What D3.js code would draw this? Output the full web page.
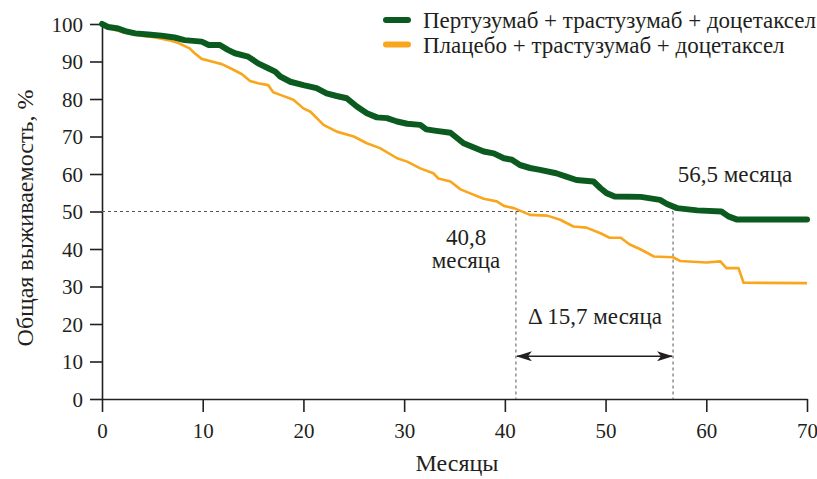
<!DOCTYPE html>
<html>
<head>
<meta charset="utf-8">
<script src="https://cdnjs.cloudflare.com/ajax/libs/d3/7.8.5/d3.min.js"></script>
<style>
  body { margin: 0; background: #fff; }
</style>
</head>
<body>
<svg width="817" height="479"></svg>
<script>
// Kaplan-Meier curves: months, survival %
const greenMonths = [0, 0.6, 1.6, 2.3, 3.3, 4.6, 5.9, 7.2, 8.2, 9.9, 10.6, 11.7, 12.5, 13.2, 14.5, 15.5, 16.5, 17.2, 17.7, 18.7, 20, 21.3, 22.3, 23.3, 24.3, 25.3, 26.3, 27.3, 28.3, 29.3, 30.3, 31.6, 32.2, 33.2, 34.6, 35.9, 37.9, 38.9, 39.9, 40.7, 41.5, 42.5, 43.5, 45.1, 46.1, 47.1, 48.8, 49.5, 50.1, 50.9, 53.5, 55.4, 56.1, 57.1, 59.1, 61.5, 62.2, 63.0, 70];
const greenPct    = [100, 99.2, 98.8, 98.1, 97.5, 97.2, 96.9, 96.4, 95.7, 95.3, 94.4, 94.4, 93.1, 92.2, 91.3, 89.5, 88.2, 87.3, 86, 84.6, 83.7, 82.9, 81.5, 80.8, 80.2, 78, 76.2, 75.1, 74.9, 74, 73.4, 73.1, 71.9, 71.5, 71.0, 68.2, 66.0, 65.5, 64.2, 63.8, 62.4, 61.6, 61.1, 60.2, 59.3, 58.4, 58.0, 56.2, 54.9, 54.0, 53.9, 53.1, 52.0, 50.9, 50.3, 50.0, 48.7, 47.9, 47.9];

const orangeMonths = [0, 1.3, 2.6, 3.9, 5.3, 6.6, 7.6, 8.7, 9.2, 9.9, 10.9, 11.9, 12.9, 13.9, 14.7, 15.5, 16.5, 17.0, 17.7, 19.0, 20, 20.7, 22.0, 23.3, 25, 26.3, 27.6, 29.3, 30.3, 31.6, 32.9, 33.4, 34.6, 35.6, 36.5, 37.9, 39.2, 39.9, 40.9, 42.5, 44.2, 45.5, 46.8, 48.1, 49.5, 50.4, 51.5, 52.4, 53.4, 54.8, 56.7, 57.4, 60.0, 61.4, 62.0, 63.2, 63.7, 70];
const orangePct    = [99.7, 98.4, 97.5, 96.9, 96.4, 95.7, 94.9, 93.5, 92.2, 90.7, 90.0, 89.3, 88.0, 86.6, 84.8, 84.2, 83.7, 81.8, 81.1, 79.8, 77.5, 76.6, 73.1, 71.3, 70.0, 68.2, 66.9, 64.2, 63.3, 61.5, 60.2, 58.8, 58.0, 55.9, 54.9, 53.4, 52.7, 51.5, 50.9, 49.1, 48.9, 47.8, 46.0, 45.7, 44.2, 43.0, 43.0, 41.2, 40.0, 38.0, 37.8, 36.8, 36.4, 36.7, 34.9, 34.9, 31.0, 30.9];

const seriesNames = ["Пертузумаб + трастузумаб + доцетаксел", "Плацебо + трастузумаб + доцетаксел"];
const seriesColors = ["#0b5a1f", "#f9a61c"];

const xTicks = [0, 10, 20, 30, 40, 50, 60, 70];
const yTicks = [0, 10, 20, 30, 40, 50, 60, 70, 80, 90, 100];

// medians as drawn (dashed drop lines) and their labels
const medianPct = 50;
const medianOrange = 41.1;
const medianGreen = 56.7;
const arrowPct = 11.4;

const FONT = "Liberation Serif";
const INK = '#231f20';

const svg = d3.select('svg');
const margin = {top: 24, right: 10, bottom: 80, left: 102};
const width = 807 - margin.left;
const height = 399 - margin.top;

const g = svg.append('g')
  .attr('transform', 'translate(' + margin.left + ',' + margin.top + ')');

const x = d3.scaleLinear().domain([0, 70]).range([0, width]);
const y = d3.scaleLinear().domain([0, 100]).range([height, 0]);

// axes
const xAxis = g.append('g')
  .attr('transform', 'translate(0,' + height + ')')
  .call(d3.axisBottom(x).tickValues(xTicks).tickSize(13).tickPadding(8).tickSizeOuter(0));
const yAxis = g.append('g')
  .call(d3.axisLeft(y).tickValues(yTicks).tickSize(12).tickPadding(7).tickSizeOuter(0));

[xAxis, yAxis].forEach(a => {
  a.attr('font-family', null).attr('font-size', null);
  a.select('.domain').attr('stroke', INK).attr('stroke-width', 1.6);
  a.selectAll('.tick line').attr('stroke', INK).attr('stroke-width', 1.6);
  a.selectAll('.tick text').attr('fill', INK)
    .style('font-family', FONT).style('font-size', '21px');
});
xAxis.selectAll('.tick text').attr('dy', '0.85em');
yAxis.selectAll('.tick text').attr('dy', '0.34em');

// dashed median guides
const dash = g.append('g').attr('stroke', '#555').attr('stroke-width', 1).attr('stroke-dasharray', '3,3').attr('fill', 'none');
dash.append('line')
  .attr('x1', x(0)).attr('x2', x(medianGreen))
  .attr('y1', y(medianPct)).attr('y2', y(medianPct));
dash.append('line')
  .attr('x1', x(medianOrange)).attr('x2', x(medianOrange))
  .attr('y1', y(medianPct)).attr('y2', y(0));
dash.append('line')
  .attr('x1', x(medianGreen)).attr('x2', x(medianGreen))
  .attr('y1', y(medianPct)).attr('y2', y(0));

// curves
const line = d3.line().x(d => x(d[0])).y(d => y(d[1]));
const orangeData = d3.zip(orangeMonths, orangePct);
const greenData = d3.zip(greenMonths, greenPct);

g.append('path')
  .datum(orangeData)
  .attr('d', line)
  .attr('fill', 'none')
  .attr('stroke', seriesColors[1])
  .attr('stroke-width', 2.6)
  .attr('stroke-linejoin', 'round');

g.append('path')
  .datum(greenData)
  .attr('d', line)
  .attr('fill', 'none')
  .attr('stroke', seriesColors[0])
  .attr('stroke-width', 6)
  .attr('stroke-linejoin', 'round')
  .attr('stroke-linecap', 'round');

// double arrow between medians
const defs = svg.append('defs');
defs.append('marker')
  .attr('id', 'arr')
  .attr('viewBox', '0 0 16 10')
  .attr('refX', 15).attr('refY', 5)
  .attr('markerWidth', 16).attr('markerHeight', 10)
  .attr('markerUnits', 'userSpaceOnUse')
  .attr('orient', 'auto-start-reverse')
  .append('path')
  .attr('d', 'M0,0 L16,5 L0,10 L4,5 Z')
  .attr('fill', INK);

g.append('line')
  .attr('x1', x(medianOrange) + 1).attr('x2', x(medianGreen) - 1)
  .attr('y1', y(arrowPct)).attr('y2', y(arrowPct))
  .attr('stroke', INK).attr('stroke-width', 1.5)
  .attr('marker-start', 'url(#arr)')
  .attr('marker-end', 'url(#arr)');

// annotations
function label(sel, px, py, txt, size) {
  return sel.append('text')
    .attr('x', px).attr('y', py)
    .attr('text-anchor', 'middle')
    .attr('fill', INK)
    .style('font-family', FONT)
    .style('font-size', size + 'px')
    .text(txt);
}
label(g, 364, 221, '40,8', 23);
label(g, 364, 244, 'месяца', 23);
label(g, 493, 300, 'Δ 15,7 месяца', 23);
label(g, 633, 158, '56,5 месяца', 23);

// axis titles
label(svg, 457, 471, 'Месяцы', 24);
label(svg, 0, 0, 'Общая выживаемость, %', 24)
  .attr('transform', 'translate(33,218) rotate(-90)');

// legend
const legend = svg.append('g').attr('transform', 'translate(383,20)');
seriesNames.forEach((name, i) => {
  const row = legend.append('g').attr('transform', 'translate(0,' + (i * 24.5) + ')');
  row.append('line')
    .attr('x1', 3).attr('x2', 25)
    .attr('y1', 0).attr('y2', 0)
    .attr('stroke', seriesColors[i])
    .attr('stroke-width', 6)
    .attr('stroke-linecap', 'round');
  row.append('text')
    .attr('x', 40).attr('y', 8)
    .attr('fill', INK)
    .style('font-family', FONT)
    .style('font-size', '23px')
    .text(name);
});
</script>
</body>
</html>
